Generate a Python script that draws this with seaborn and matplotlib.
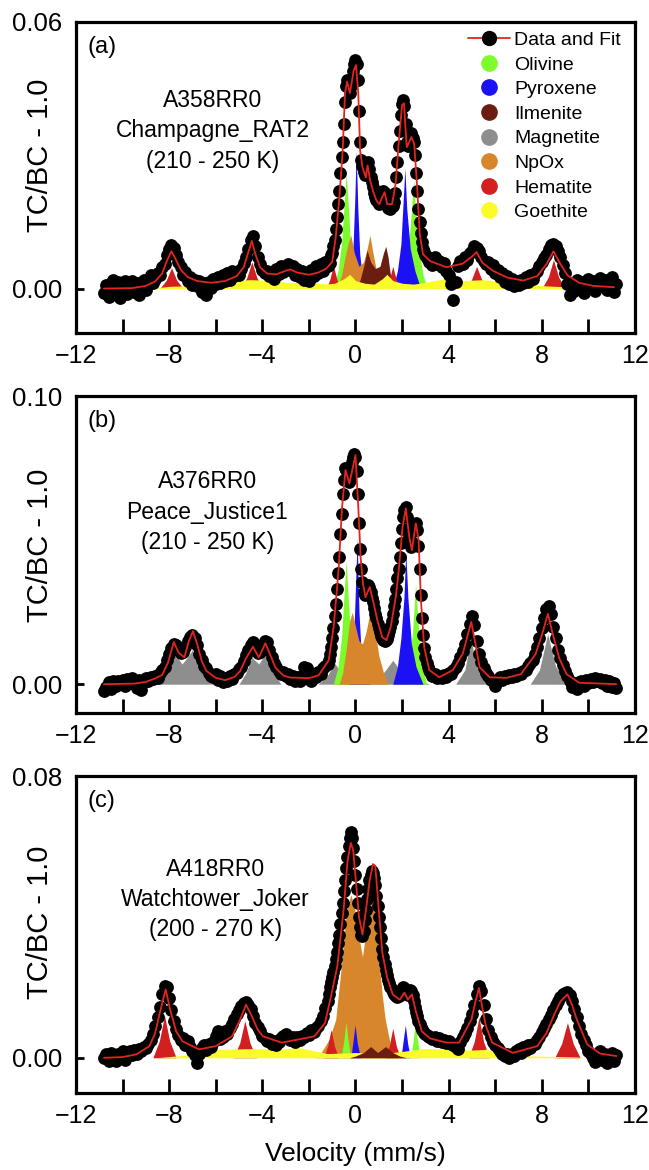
import numpy as np
import matplotlib
matplotlib.use("Agg")
import matplotlib.pyplot as plt
from matplotlib.lines import Line2D
import seaborn as sns

sns.set_style("white")
plt.rcParams["font.family"] = ["Liberation Sans", "DejaVu Sans"]
plt.rcParams.update({"text.color": "black", "axes.labelcolor": "black",
                     "xtick.color": "black", "ytick.color": "black",
                     "axes.edgecolor": "black"})

# velocity channels (mm/s): 0.1 steps on the wings, 0.05 across the central doublets
vel_left = np.linspace(-10.8, -1.3, 96)
vel_mid = np.linspace(-1.2, 3.15, 88)
vel_right = np.linspace(3.2, 11.2, 81)
velocity = np.concatenate([vel_left, vel_mid, vel_right])

# ---------------- panel (a) A358RR0 ----------------
a_left = [-0.0010, 0.0008, -0.0018, 0.0012, 0.0020, -0.0005, 0.0015, -0.0022, 0.0010, 0.0018,
          -0.0012, 0.0005, 0.0016, -0.0008, 0.0012, -0.0015, 0.0008, 0.0020, -0.0004, 0.0014,
          0.0030, 0.0012, 0.0022, 0.0035, 0.0030, 0.0048, 0.0055, 0.0075, 0.0090, 0.0098,
          0.0092, 0.0075, 0.0060, 0.0048, 0.0030, 0.0038, 0.0018, 0.0025, 0.0008, 0.0020,
          0.0005, 0.0018, -0.0008, 0.0012, -0.0015, 0.0015, 0.0002, 0.0022, 0.0010, 0.0025,
          0.0012, 0.0030, 0.0018, 0.0035, 0.0020, 0.0040, 0.0028, 0.0038, 0.0030, 0.0045,
          0.0058, 0.0072, 0.0090, 0.0110, 0.0118, 0.0095, 0.0072, 0.0055, 0.0042, 0.0035,
          0.0040, 0.0028, 0.0038, 0.0022, 0.0045, 0.0032, 0.0050, 0.0038, 0.0048, 0.0055,
          0.0042, 0.0050, 0.0030, 0.0045, 0.0025, 0.0040, 0.0020, 0.0035, 0.0018, 0.0042,
          0.0028, 0.0050, 0.0035, 0.0055, 0.0040, 0.0060]
a_mid = [0.0050, 0.0065, 0.0058, 0.0075, 0.0080, 0.0095, 0.0110, 0.0135, 0.0160, 0.0190,
         0.0220, 0.0260, 0.0295, 0.0330, 0.0370, 0.0420, 0.0455, 0.0470, 0.0460, 0.0440,
         0.0455, 0.0470, 0.0490, 0.0505, 0.0515, 0.0505, 0.0470, 0.0400, 0.0330, 0.0290,
         0.0275, 0.0262, 0.0255, 0.0260, 0.0280, 0.0285, 0.0268, 0.0250, 0.0240, 0.0228,
         0.0215, 0.0205, 0.0200, 0.0195, 0.0190, 0.0195, 0.0205, 0.0212, 0.0220, 0.0215,
         0.0200, 0.0190, 0.0182, 0.0185, 0.0180, 0.0188, 0.0185, 0.0195, 0.0215, 0.0250,
         0.0285, 0.0320, 0.0355, 0.0390, 0.0415, 0.0425, 0.0410, 0.0370, 0.0330, 0.0320,
         0.0335, 0.0345, 0.0350, 0.0340, 0.0330, 0.0300, 0.0260, 0.0220, 0.0180, 0.0150,
         0.0125, 0.0105, 0.0090, 0.0082, 0.0075, 0.0068, 0.0072, 0.0060]
a_right = [0.0065, 0.0052, 0.0070, 0.0055, 0.0062, 0.0048, 0.0058, 0.0040, 0.0030, 0.0010,
           -0.0025, 0.0015, 0.0050, 0.0062, 0.0055, 0.0070, 0.0065, 0.0080, 0.0085, 0.0095,
           0.0092, 0.0085, 0.0070, 0.0062, 0.0055, 0.0060, 0.0045, 0.0052, 0.0035, 0.0042,
           0.0025, 0.0035, 0.0015, 0.0028, 0.0010, 0.0022, 0.0005, 0.0018, 0.0008, 0.0020,
           0.0012, 0.0025, 0.0015, 0.0030, 0.0022, 0.0035, 0.0040, 0.0050, 0.0060, 0.0068,
           0.0075, 0.0090, 0.0098, 0.0100, 0.0095, 0.0085, 0.0070, 0.0052, 0.0035, 0.0010,
           -0.0015, 0.0012, -0.0005, 0.0020, 0.0002, 0.0015, -0.0010, 0.0012, 0.0022, 0.0005,
           0.0018, -0.0006, 0.0010, 0.0024, 0.0008, 0.0020, -0.0004, 0.0015, 0.0025, -0.0008,
           0.0010]

a_fit_v = [-10.8, -9.6, -9.0, -8.6, -8.3, -8.1, -7.9, -7.7, -7.5, -7.2, -6.8, -6.2, -5.6, -5.1,
           -4.8, -4.6, -4.45, -4.3, -4.1, -3.8, -3.4, -3.0, -2.8, -2.5, -2.0, -1.6, -1.25,
           -1.0, -0.85, -0.7, -0.55, -0.45, -0.36, -0.24, -0.08, 0.02, 0.12, 0.2, 0.3, 0.44,
           0.52, 0.63, 0.75, 0.9, 1.02, 1.15, 1.25, 1.36, 1.57, 1.72, 1.86, 2.0, 2.08, 2.2,
           2.4, 2.52, 2.64, 2.76, 2.9, 3.2, 3.9, 4.6, 5.0, 5.2, 5.45, 5.9, 6.5, 7.2, 7.8,
           8.2, 8.5, 8.8, 9.1, 9.6, 10.2, 11.1]
a_fit_y = [0.0000, 0.0001, 0.0006, 0.0016, 0.0034, 0.0062, 0.0084, 0.0064, 0.0042, 0.0026,
           0.0017, 0.0013, 0.0017, 0.0028, 0.0048, 0.0082, 0.0107, 0.0078, 0.0048, 0.0034,
           0.0032, 0.0040, 0.0043, 0.0036, 0.0031, 0.0036, 0.0045, 0.0060, 0.0115, 0.0200,
           0.0310, 0.0440, 0.0466, 0.0440, 0.0490, 0.0503, 0.0440, 0.0310, 0.0273, 0.0250,
           0.0277, 0.0243, 0.0220, 0.0198, 0.0190, 0.0206, 0.0217, 0.0190, 0.0190, 0.0235,
           0.0330, 0.0413, 0.0417, 0.0318, 0.0341, 0.0326, 0.0235, 0.0122, 0.0077, 0.0062,
           0.0048, 0.0056, 0.0072, 0.0082, 0.0058, 0.0040, 0.0025, 0.0018, 0.0028, 0.0055,
           0.0084, 0.0055, 0.0030, 0.0013, 0.0006, 0.0003]

a_olv_v = [-0.95, -0.75, -0.6, -0.5, -0.4, -0.3, -0.2, -0.05, 0.1,
           1.9, 2.2, 2.35, 2.5, 2.6, 2.75, 2.9, 3.1]
a_olv_y = [0, 0.004, 0.010, 0.018, 0.026, 0.018, 0.008, 0.002, 0,
           0, 0.006, 0.014, 0.0244, 0.016, 0.008, 0.003, 0]
a_pyx_v = [-0.35, -0.2, -0.1, -0.03, 0.03, 0.1, 0.18, 0.3, 0.45,
           1.6, 1.8, 1.95, 2.05, 2.12, 2.2, 2.35, 2.55, 2.8]
a_pyx_y = [0, 0.004, 0.010, 0.020, 0.031, 0.018, 0.008, 0.002, 0,
           0, 0.004, 0.010, 0.020, 0.027, 0.018, 0.009, 0.004, 0]
a_npox_v = [-0.8, -0.6, -0.45, -0.3, -0.2, -0.05, 0.15, 0.35, 0.5, 0.62, 0.75, 0.9, 1.1]
a_npox_y = [0, 0.003, 0.007, 0.0105, 0.012, 0.008, 0.005, 0.006, 0.009, 0.012, 0.008, 0.004, 0]
a_ilm_v = [0.0, 0.2, 0.35, 0.5, 0.65, 0.85, 1.05, 1.2, 1.3, 1.4, 1.5, 1.7]
a_ilm_y = [0, 0.002, 0.005, 0.0086, 0.006, 0.0045, 0.005, 0.008, 0.0095, 0.007, 0.003, 0]
a_hem_v = [-8.4, -8.12, -7.9, -7.68, -7.4, -4.95, -4.67, -4.45, -4.23, -3.95,
           -1.25, -1.1, -0.95, -0.8, -0.65, 1.3, 1.45, 1.6, 1.75, 1.9,
           4.7, 4.98, 5.2, 5.42, 5.7, 8.0, 8.28, 8.5, 8.72, 9.0]
a_hem_y = [0, 0.0019, 0.0047, 0.0019, 0, 0, 0.0024, 0.0060, 0.0024, 0,
           0, 0.0021, 0.0052, 0.0021, 0, 0, 0.0020, 0.0050, 0.0020, 0,
           0, 0.0020, 0.0050, 0.0020, 0, 0, 0.0026, 0.0065, 0.0026, 0]
a_goe_v = [-8.8, -8.0, -6.0, -5.6, -5.4, -4.5, -3.5, -3.0, -2.4, -2.1, -1.8, -1.3, -0.9, -0.5,
           -0.25, 0.0, 0.4, 0.8, 1.15, 1.35, 1.6, 2.0, 2.5, 3.0, 3.6, 4.2, 4.6, 5.5, 6.2, 6.6,
           9.0, 9.1]
a_goe_y = [0, 0.0005, 0.0008, 0.0014, 0.0018, 0.0020, 0.0018, 0.0014, 0.0014, 0.0022,
           0.0014, 0.0010, 0.0012, 0.0022, 0.0032, 0.0018, 0.0012, 0.0010, 0.0022, 0.0032,
           0.0018, 0.0012, 0.0010, 0.0014, 0.0020, 0.0024, 0.0018, 0.0020, 0.0016, 0.0010,
           0.0004, 0]

# ---------------- panel (b) A376RR0 ----------------
b_left = [-0.0025, -0.0010, 0.0008, -0.0015, 0.0010, -0.0005, 0.0012, 0.0000, 0.0015, -0.0008,
          0.0018, 0.0005, 0.0020, 0.0010, -0.0012, 0.0015, -0.0020, 0.0008, 0.0022, 0.0010,
          0.0025, 0.0018, 0.0030, 0.0022, 0.0040, 0.0048, 0.0060, 0.0085, 0.0105, 0.0125,
          0.0140, 0.0135, 0.0120, 0.0108, 0.0112, 0.0130, 0.0150, 0.0165, 0.0172, 0.0160,
          0.0135, 0.0105, 0.0085, 0.0062, 0.0055, 0.0038, 0.0030, 0.0025, 0.0035, 0.0015,
          0.0028, 0.0008, 0.0022, 0.0010, 0.0030, 0.0018, 0.0035, 0.0040, 0.0052, 0.0060,
          0.0080, 0.0100, 0.0118, 0.0135, 0.0148, 0.0130, 0.0108, 0.0112, 0.0130, 0.0150,
          0.0145, 0.0118, 0.0095, 0.0075, 0.0058, 0.0045, 0.0035, 0.0042, 0.0028, 0.0035,
          0.0018, 0.0030, 0.0012, 0.0025, 0.0010, 0.0028, 0.0060, 0.0055, 0.0040, 0.0012,
          0.0030, 0.0025, 0.0042, 0.0035, 0.0055, 0.0062]
b_mid = [0.0070, 0.0085, 0.0105, 0.0130, 0.0160, 0.0195, 0.0235, 0.0280, 0.0330, 0.0385,
         0.0440, 0.0520, 0.0590, 0.0660, 0.0710, 0.0750, 0.0745, 0.0720, 0.0700, 0.0710,
         0.0740, 0.0770, 0.0790, 0.0800, 0.0790, 0.0740, 0.0660, 0.0560, 0.0470, 0.0400,
         0.0355, 0.0320, 0.0310, 0.0315, 0.0330, 0.0345, 0.0338, 0.0320, 0.0300, 0.0285,
         0.0265, 0.0245, 0.0228, 0.0210, 0.0195, 0.0180, 0.0168, 0.0160, 0.0155, 0.0150,
         0.0152, 0.0158, 0.0170, 0.0185, 0.0200, 0.0220, 0.0245, 0.0270, 0.0295, 0.0330,
         0.0370, 0.0400, 0.0440, 0.0490, 0.0540, 0.0580, 0.0605, 0.0615, 0.0580, 0.0540,
         0.0510, 0.0490, 0.0475, 0.0490, 0.0530, 0.0555, 0.0560, 0.0535, 0.0480, 0.0400,
         0.0310, 0.0230, 0.0170, 0.0125, 0.0095, 0.0075, 0.0060, 0.0050]
b_right = [0.0042, 0.0030, 0.0035, 0.0022, 0.0030, 0.0020, 0.0032, 0.0025, 0.0040, 0.0035,
           0.0050, 0.0060, 0.0075, 0.0095, 0.0115, 0.0140, 0.0175, 0.0210, 0.0235, 0.0205,
           0.0150, 0.0105, 0.0078, 0.0055, 0.0040, 0.0030, 0.0015, 0.0010, -0.0005, 0.0012,
           0.0025, 0.0015, 0.0030, 0.0020, 0.0032, 0.0025, 0.0035, 0.0028, 0.0040, 0.0035,
           0.0045, 0.0050, 0.0062, 0.0072, 0.0085, 0.0105, 0.0130, 0.0160, 0.0195, 0.0230,
           0.0260, 0.0270, 0.0245, 0.0200, 0.0160, 0.0120, 0.0090, 0.0065, 0.0045, 0.0030,
           0.0010, -0.0010, 0.0005, -0.0015, 0.0008, 0.0012, -0.0005, 0.0015, 0.0005, 0.0018,
           0.0008, 0.0020, 0.0010, 0.0018, 0.0005, 0.0015, -0.0005, 0.0010, -0.0010, 0.0005,
           -0.0012]

b_fit_v = [-10.8, -9.5, -9.0, -8.6, -8.3, -8.05, -7.8, -7.6, -7.35, -7.15, -6.98, -6.8, -6.6,
           -6.4, -6.0, -5.6, -5.2, -4.95, -4.7, -4.4, -4.15, -3.87, -3.65, -3.44, -3.1, -2.8,
           -2.0, -1.58, -1.15, -0.94, -0.79, -0.72, -0.58, -0.43, -0.26, 0.0, 0.12, 0.22,
           0.32, 0.43, 0.61, 0.75, 0.94, 1.15, 1.33, 1.51, 1.73, 1.87, 2.02, 2.16, 2.31, 2.42,
           2.59, 2.71, 2.81, 2.95, 3.17, 3.6, 4.18, 4.61, 4.97, 5.12, 5.33, 5.76, 6.5, 7.1,
           7.73, 8.0, 8.26, 8.5, 8.75, 9.06, 9.6, 11.2]
b_fit_y = [0.0000, 0.0002, 0.0008, 0.0020, 0.0032, 0.0075, 0.0146, 0.0110, 0.0093, 0.0150,
           0.0184, 0.0140, 0.0080, 0.0046, 0.0022, 0.0014, 0.0025, 0.0046, 0.0090, 0.0130,
           0.0093, 0.0142, 0.0100, 0.0058, 0.0030, 0.0023, 0.0021, 0.0031, 0.0083, 0.0198,
           0.0336, 0.0406, 0.0610, 0.0743, 0.0697, 0.0795, 0.0615, 0.0441, 0.0350, 0.0302,
           0.0337, 0.0291, 0.0222, 0.0163, 0.0153, 0.0198, 0.0302, 0.0406, 0.0545, 0.0610,
           0.0510, 0.0465, 0.0558, 0.0500, 0.0291, 0.0128, 0.0049, 0.0024, 0.0049, 0.0107,
           0.0216, 0.0153, 0.0059, 0.0024, 0.0022, 0.0035, 0.0104, 0.0170, 0.0244, 0.0165,
           0.0090, 0.0035, 0.0005, 0.0000]

b_mag_v = [-8.5, -8.1, -7.8, -7.7, -7.45, -7.2, -7.0, -6.75, -6.3, -6.0,
           -5.0, -4.7, -4.45, -4.15, -3.9, -3.6, -3.2,
           -1.6, -1.2, -0.9, -0.6, -0.2, 0.5, 1.0, 1.3, 1.6, 1.9, 2.4, 3.2,
           4.3, 4.7, 4.95, 5.2, 5.7,
           7.5, 7.9, 8.25, 8.6, 9.2]
b_mag_y = [0, 0.004, 0.0095, 0.010, 0.007, 0.0095, 0.012, 0.006, 0.0015, 0,
           0, 0.004, 0.0093, 0.007, 0.0104, 0.005, 0,
           0, 0.003, 0.0073, 0.004, 0.001, 0.0005, 0.002, 0.005, 0.0083, 0.005, 0.002, 0,
           0, 0.005, 0.016, 0.006, 0,
           0, 0.005, 0.0174, 0.006, 0]
b_olv_v = [-0.95, -0.75, -0.6, -0.5, -0.4, -0.3, -0.15, 0.05,
           2.0, 2.3, 2.45, 2.58, 2.7, 2.85, 3.05]
b_olv_y = [0, 0.006, 0.016, 0.030, 0.043, 0.028, 0.010, 0,
           0, 0.008, 0.018, 0.035, 0.020, 0.008, 0]
b_pyx_v = [-0.3, -0.15, -0.05, 0.07, 0.15, 0.25, 0.4, 0.6,
           1.6, 1.8, 1.95, 2.08, 2.16, 2.25, 2.4, 2.6, 2.9]
b_pyx_y = [0, 0.008, 0.022, 0.0506, 0.025, 0.010, 0.003, 0,
           0, 0.006, 0.016, 0.030, 0.046, 0.030, 0.014, 0.006, 0]
b_npox_v = [-0.7, -0.55, -0.4, -0.25, -0.14, 0.0, 0.15, 0.3, 0.45, 0.6, 0.69, 0.85, 1.0, 1.2, 1.4]
b_npox_y = [0, 0.004, 0.012, 0.022, 0.025, 0.020, 0.015, 0.014, 0.018, 0.024, 0.0243, 0.018,
            0.010, 0.004, 0]

# ---------------- panel (c) A418RR0 ----------------
c_left = [0.0000, 0.0010, -0.0008, 0.0015, 0.0002, -0.0010, 0.0012, 0.0005, 0.0018, -0.0005,
          0.0010, 0.0020, 0.0008, 0.0022, 0.0012, 0.0025, 0.0018, 0.0030, 0.0028, 0.0040,
          0.0050, 0.0068, 0.0090, 0.0115, 0.0145, 0.0180, 0.0205, 0.0200, 0.0170, 0.0135,
          0.0105, 0.0082, 0.0065, 0.0050, 0.0055, 0.0035, 0.0048, 0.0030, 0.0020, 0.0008,
          -0.0015, 0.0012, 0.0028, 0.0035, 0.0022, 0.0040, 0.0030, 0.0045, 0.0062, 0.0075,
          0.0052, 0.0060, 0.0075, 0.0068, 0.0085, 0.0095, 0.0110, 0.0125, 0.0135, 0.0148,
          0.0155, 0.0158, 0.0150, 0.0138, 0.0120, 0.0100, 0.0088, 0.0075, 0.0062, 0.0055,
          0.0048, 0.0052, 0.0040, 0.0048, 0.0035, 0.0045, 0.0055, 0.0062, 0.0068, 0.0055,
          0.0050, 0.0060, 0.0045, 0.0058, 0.0050, 0.0062, 0.0058, 0.0070, 0.0065, 0.0078,
          0.0072, 0.0085, 0.0090, 0.0105, 0.0120, 0.0140]
c_mid = [0.0160, 0.0180, 0.0200, 0.0215, 0.0230, 0.0245, 0.0262, 0.0280, 0.0300, 0.0325,
         0.0350, 0.0380, 0.0410, 0.0440, 0.0475, 0.0505, 0.0540, 0.0570, 0.0600, 0.0625,
         0.0640, 0.0625, 0.0595, 0.0560, 0.0520, 0.0480, 0.0440, 0.0400, 0.0370, 0.0350,
         0.0345, 0.0360, 0.0390, 0.0420, 0.0450, 0.0480, 0.0505, 0.0520, 0.0530, 0.0525,
         0.0510, 0.0490, 0.0460, 0.0430, 0.0400, 0.0370, 0.0340, 0.0310, 0.0285, 0.0265,
         0.0248, 0.0235, 0.0222, 0.0212, 0.0202, 0.0195, 0.0188, 0.0182, 0.0178, 0.0175,
         0.0172, 0.0175, 0.0178, 0.0185, 0.0192, 0.0200, 0.0198, 0.0188, 0.0180, 0.0178,
         0.0185, 0.0192, 0.0190, 0.0178, 0.0162, 0.0145, 0.0130, 0.0118, 0.0105, 0.0095,
         0.0088, 0.0080, 0.0075, 0.0070, 0.0068, 0.0065, 0.0062, 0.0060]
c_right = [0.0058, 0.0052, 0.0060, 0.0048, 0.0055, 0.0045, 0.0050, 0.0042, 0.0048, 0.0040,
           0.0035, 0.0030, 0.0025, 0.0045, 0.0060, 0.0070, 0.0085, 0.0105, 0.0125, 0.0150,
           0.0180, 0.0205, 0.0190, 0.0150, 0.0110, 0.0080, 0.0060, 0.0045, 0.0035, 0.0028,
           0.0020, 0.0012, 0.0005, 0.0010, 0.0000, 0.0012, 0.0005, 0.0018, 0.0025, 0.0015,
           0.0030, 0.0022, 0.0035, 0.0028, 0.0040, 0.0038, 0.0050, 0.0060, 0.0072, 0.0085,
           0.0095, 0.0110, 0.0122, 0.0135, 0.0150, 0.0162, 0.0172, 0.0180, 0.0185, 0.0188,
           0.0178, 0.0160, 0.0138, 0.0115, 0.0090, 0.0068, 0.0050, 0.0035, 0.0020, 0.0010,
           0.0000, -0.0012, 0.0008, 0.0020, -0.0005, 0.0012, -0.0015, 0.0005, 0.0015, -0.0010,
           0.0008]

c_fit_v = [-10.8, -10.0, -9.4, -8.85, -8.6, -8.4, -8.15, -7.95, -7.7, -7.43, -6.72, -6.0, -5.3,
           -4.95, -4.7, -4.45, -4.2, -3.97, -3.17, -2.46, -1.76, -1.31, -1.05, -0.78, -0.51,
           -0.34, -0.2, -0.1, 0.02, 0.15, 0.3, 0.45, 0.6, 0.75, 0.85, 1.0, 1.15, 1.35, 1.6,
           1.9, 2.1, 2.25, 2.42, 2.6, 2.85, 3.2, 3.92, 4.45, 4.98, 5.15, 5.3, 5.45, 5.6, 5.87,
           6.76, 7.8, 8.2, 8.5, 8.8, 9.1, 9.3, 9.5, 9.95, 10.5, 11.2]
c_fit_y = [0.0000, 0.0002, 0.0010, 0.0033, 0.0070, 0.0128, 0.0194, 0.0135, 0.0075, 0.0047,
           0.0024, 0.0033, 0.0061, 0.0109, 0.0151, 0.0118, 0.0080, 0.0061, 0.0043, 0.0052,
           0.0061, 0.0099, 0.0175, 0.0260, 0.0420, 0.0560, 0.0610, 0.0590, 0.0500, 0.0400,
           0.0350, 0.0420, 0.0500, 0.0550, 0.0545, 0.0420, 0.0300, 0.0230, 0.0180, 0.0165,
           0.0185, 0.0165, 0.0180, 0.0130, 0.0075, 0.0055, 0.0043, 0.0043, 0.0109, 0.0160,
           0.0198, 0.0140, 0.0090, 0.0043, 0.0014, 0.0033, 0.0070, 0.0118, 0.0160, 0.0180,
           0.0150, 0.0109, 0.0038, 0.0012, 0.0005]

c_npox_v = [-1.75, -1.48, -1.15, -0.85, -0.57, -0.43, -0.3, -0.2, -0.05, 0.1, 0.3, 0.45, 0.6,
            0.72, 0.85, 0.94, 1.0, 1.15, 1.28, 1.57, 1.8]
c_npox_y = [0, 0.0014, 0.005, 0.0108, 0.0284, 0.0392, 0.044, 0.0463, 0.043, 0.036, 0.0287,
            0.036, 0.043, 0.046, 0.043, 0.0392, 0.0284, 0.0177, 0.0108, 0.0014, 0]
c_hem_v = [-8.7, -8.42, -8.2, -7.98, -7.7, -5.25, -4.97, -4.75, -4.53, -4.25,
           -1.38, -1.2, -1.05, -0.9, -0.72, 1.27, 1.45, 1.6, 1.75, 1.93,
           4.85, 5.1, 5.3, 5.5, 5.75, 8.55, 8.85, 9.1, 9.35, 9.65]
c_hem_y = [0, 0.0048, 0.0120, 0.0048, 0, 0, 0.0042, 0.0105, 0.0042, 0,
           0, 0.0032, 0.0080, 0.0032, 0, 0, 0.0034, 0.0084, 0.0034, 0,
           0, 0.0046, 0.0115, 0.0046, 0, 0, 0.0040, 0.0100, 0.0040, 0]
c_olv_v = [-0.62, -0.5, -0.41, -0.32, -0.2, 2.37, 2.48, 2.57, 2.66, 2.8]
c_olv_y = [0, 0.005, 0.0103, 0.005, 0, 0, 0.005, 0.0103, 0.005, 0]
c_pyx_v = [-0.2, -0.1, -0.02, 0.08, 0.22, 1.95, 2.05, 2.14, 2.24, 2.36]
c_pyx_y = [0, 0.005, 0.0093, 0.004, 0, 0, 0.005, 0.0093, 0.004, 0]
c_ilm_v = [-0.27, 0.0, 0.35, 0.65, 0.95, 1.29, 1.6, 1.9, 2.2]
c_ilm_y = [0, 0.0005, 0.0015, 0.0032, 0.0015, 0.0032, 0.0015, 0.0005, 0]
c_goe_v = [-8.6, -7.2, -6.5, -5.9, -4.5, -3.0, -2.5, -1.8, -1.2, 0.0, 1.2, 2.0, 2.9, 4.0, 5.0,
           5.6, 6.2, 7.0, 9.7, 9.8]
c_goe_y = [0, 0.0008, 0.0015, 0.0024, 0.0026, 0.0025, 0.0030, 0.0020, 0.0012, 0.0015, 0.0012,
           0.0018, 0.0026, 0.0025, 0.0022, 0.0024, 0.0012, 0.0006, 0.0002, 0]

minerals = ["Olivine", "Pyroxene", "Ilmenite", "Magnetite", "NpOx", "Hematite", "Goethite"]
colors = {"Olivine": "#7dfb2a", "Pyroxene": "#1c10f5", "Ilmenite": "#6b1d12",
          "Magnetite": "#8e8e8e", "NpOx": "#d8862b", "Hematite": "#d21f1f",
          "Goethite": "#fbfb2c"}
fit_color = "#e3241e"

panels = [
    dict(tag="(a)", label="A358RR0\nChampagne_RAT2\n(210 - 250 K)", ymax=0.06,
         data=a_left + a_mid + a_right, fit=(a_fit_v, a_fit_y), text_xy=(0.245, 0.65),
         ylab_y=0.57,
         comps=[("Olivine", a_olv_v, a_olv_y), ("Pyroxene", a_pyx_v, a_pyx_y),
                ("NpOx", a_npox_v, a_npox_y), ("Ilmenite", a_ilm_v, a_ilm_y),
                ("Hematite", a_hem_v, a_hem_y), ("Goethite", a_goe_v, a_goe_y)]),
    dict(tag="(b)", label="A376RR0\nPeace_Justice1\n(210 - 250 K)", ymax=0.10,
         data=b_left + b_mid + b_right, fit=(b_fit_v, b_fit_y), text_xy=(0.235, 0.634),
         ylab_y=0.53,
         comps=[("Magnetite", b_mag_v, b_mag_y), ("Olivine", b_olv_v, b_olv_y),
                ("Pyroxene", b_pyx_v, b_pyx_y), ("NpOx", b_npox_v, b_npox_y)]),
    dict(tag="(c)", label="A418RR0\nWatchtower_Joker\n(200 - 270 K)", ymax=0.08,
         data=c_left + c_mid + c_right, fit=(c_fit_v, c_fit_y), text_xy=(0.25, 0.61),
         ylab_y=0.54,
         comps=[("NpOx", c_npox_v, c_npox_y), ("Hematite", c_hem_v, c_hem_y),
                ("Olivine", c_olv_v, c_olv_y), ("Pyroxene", c_pyx_v, c_pyx_y),
                ("Goethite", c_goe_v, c_goe_y), ("Ilmenite", c_ilm_v, c_ilm_y)]),
]

fig = plt.figure(figsize=(6.49, 11.70), dpi=100)
bottoms = [0.7154, 0.3906, 0.0658]
heights = [0.2658, 0.2709, 0.2709]

for p, b, h in zip(panels, bottoms, heights):
    ax = fig.add_axes([0.1171, b, 0.8613, h])

    # component subspectra as filled areas
    for name, cv, cy in p["comps"]:
        ax.fill_between(cv, 0, cy, color=colors[name], linewidth=0, zorder=1)

    # data and fit
    sns.scatterplot(x=velocity, y=p["data"], ax=ax, color="black", s=85,
                    linewidth=0, legend=False, zorder=3)
    sns.lineplot(x=p["fit"][0], y=p["fit"][1], ax=ax, color=fit_color, linewidth=1.3,
                 sort=False, estimator=None, legend=False, zorder=4)

    ax.set_xlim(-12, 12)
    ax.set_ylim(-0.01, p["ymax"])
    ax.set_xticks(np.arange(-12, 13, 4))
    ax.set_xticks([-10, -6, -2, 2, 6, 10], minor=True)
    ax.set_yticks([0, p["ymax"]])
    ax.set_yticklabels(["0.00", f"{p['ymax']:.2f}"])
    ax.tick_params(axis="x", which="both", direction="in", length=10, width=2,
                   bottom=True, top=False, pad=8, labelsize=18)
    ax.tick_params(axis="y", direction="in", length=6, width=2, left=True,
                   right=False, pad=10, labelsize=18.5)
    for sp in ax.spines.values():
        sp.set_linewidth(2.3)
        sp.set_color("black")
    ax.set_xlabel("")
    ax.set_ylabel("TC/BC - 1.0", fontsize=21)
    ax.yaxis.set_label_coords(-0.040, p["ylab_y"])

    ax.text(0.02, 0.92, p["tag"], transform=ax.transAxes, ha="left", va="center",
            fontsize=17)
    ax.text(p["text_xy"][0], p["text_xy"][1], p["label"], transform=ax.transAxes,
            ha="center", va="center", fontsize=16.5, linespacing=1.4,
            multialignment="center")

    if p["tag"] == "(a)":
        handles = [Line2D([], [], color=fit_color, lw=1.3, marker="o",
                          markerfacecolor="black", markeredgecolor="black", markersize=10)]
        handles += [Line2D([], [], ls="none", marker="o", markersize=11,
                           markerfacecolor=colors[m], markeredgecolor=colors[m])
                    for m in minerals]
        ax.legend(handles, ["Data and Fit"] + minerals, loc="upper right",
                  bbox_to_anchor=(0.975, 0.97), frameon=False, fontsize=14,
                  handlelength=2.2, handletextpad=0.2, labelspacing=0.36,
                  borderaxespad=0, borderpad=0)
    if p["tag"] == "(c)":
        ax.set_xlabel("Velocity (mm/s)", fontsize=19, labelpad=10)

fig.savefig("out.png", dpi=100)
